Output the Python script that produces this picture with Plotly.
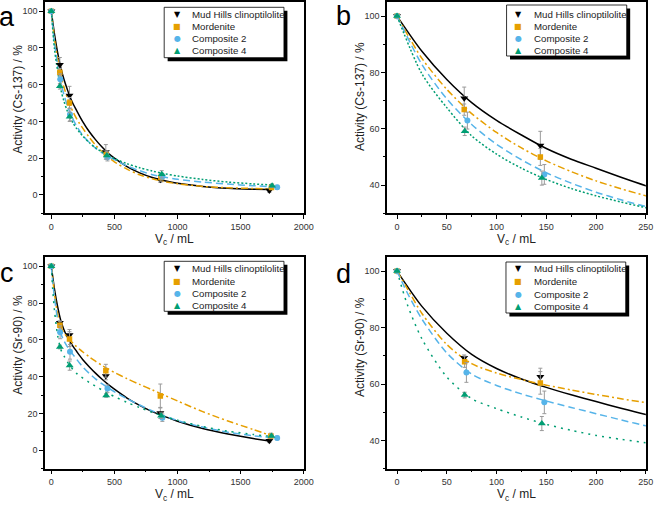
import plotly.graph_objects as go

# ---------------- data ----------------
series_names = ["Mud Hills clinoptilolite", "Mordenite", "Composite 2", "Composite 4"]

# Cs-137 measured points
vc_cs_mh = [0, 67.5, 144, 432, 864, 1728]
act_cs_mh = [100, 70.8, 54.1, 23.4, 8.3, 2.4]
err_cs_mh = [0.5, 4.0, 5.0, 4.0, 1.5, 1.0]
vc_cs_mor = [0, 67.5, 144, 436, 868, 1745]
act_cs_mor = [100, 66.8, 50.0, 22.0, 9.5, 4.0]
err_cs_mor = [0.5, 2.0, 3.0, 2.0, 2.0, 1.0]
vc_cs_c2 = [0, 70.7, 148, 445, 880, 1790]
act_cs_c2 = [100, 62.9, 43.8, 20.5, 10.0, 4.2]
err_cs_c2 = [0.5, 3.0, 3.5, 2.0, 1.5, 1.0]
vc_cs_c4 = [0, 68, 145.5, 440, 875, 1750]
act_cs_c4 = [100, 59.1, 42.5, 21.5, 11.2, 5.0]
err_cs_c4 = [0.5, 1.5, 2.5, 2.0, 2.0, 1.0]

# Cs-137 fitted curves
fitx_cs_mh = [0, 25, 50, 75, 100, 125, 150, 175, 200, 225, 250, 300, 350, 400, 450, 500, 600, 700, 800, 900, 1000, 1200, 1400, 1600, 1728]
fity_cs_mh = [100, 87.5, 77.5, 69.3, 63, 57.8, 53, 49.2, 46, 42.8, 39.8, 34.5, 30.1, 26.2, 22.8, 20.0, 15.4, 12.0, 9.5, 7.7, 6.3, 4.6, 3.6, 3.1, 2.9]
fitx_cs_mor = [0, 25, 50, 75, 100, 125, 150, 175, 200, 225, 250, 300, 350, 400, 450, 500, 600, 700, 800, 900, 1000, 1200, 1400, 1600, 1745]
fity_cs_mor = [100, 85, 74, 65.4, 58.7, 53.2, 48.6, 44.8, 41.5, 38.7, 36.2, 31.4, 27.2, 23.7, 20.6, 18.0, 14.0, 11.0, 8.8, 7.2, 6.1, 4.6, 3.9, 3.5, 3.3]
fitx_cs_c2 = [0, 25, 50, 75, 100, 125, 150, 175, 200, 225, 250, 300, 350, 400, 450, 500, 600, 700, 800, 900, 1000, 1200, 1400, 1600, 1790]
fity_cs_c2 = [100, 82.8, 70.6, 61.5, 54.5, 49, 44.4, 40.7, 37.5, 34.8, 32.4, 28.6, 25.5, 23.0, 20.9, 19.2, 15.8, 13.2, 11.0, 9.6, 8.5, 7.0, 5.9, 5.0, 4.4]
fitx_cs_c4 = [0, 25, 50, 75, 100, 125, 150, 175, 200, 225, 250, 300, 350, 400, 450, 500, 600, 700, 800, 900, 1000, 1200, 1400, 1600, 1750]
fity_cs_c4 = [100, 79.5, 67.5, 57.5, 51, 46, 42, 38.8, 36.2, 34, 32, 28.5, 25.7, 23.4, 21.4, 19.8, 17, 14.8, 13, 11.5, 10.3, 8.4, 7, 6, 5.4]

# Sr-90 measured points
vc_sr_mh = [0, 67.4, 144, 432, 864, 1728]
act_sr_mh = [100, 69.3, 62.6, 40.3, 20.3, 5.2]
err_sr_mh = [0.5, 1.0, 3.0, 2.0, 3.0, 1.0]
vc_sr_mor = [0, 67.9, 144, 432, 864, 1740]
act_sr_mor = [100, 67.9, 60.4, 43.2, 29.5, 7.8]
err_sr_mor = [0.5, 2.0, 4.0, 3.5, 6.5, 1.5]
vc_sr_c2 = [0, 69.7, 148, 445, 880, 1790]
act_sr_c2 = [100, 64.1, 53.5, 33.5, 17.7, 6.7]
err_sr_c2 = [0.5, 3.5, 4.0, 2.0, 2.0, 1.0]
vc_sr_c4 = [0, 68, 145.5, 435, 870, 1745]
act_sr_c4 = [100, 56.1, 46.0, 29.8, 18.8, 7.8]
err_sr_c4 = [0.5, 1.0, 2.5, 1.0, 1.5, 1.0]

# Sr-90 fitted curves
fitx_sr_mh = [0, 25, 50, 75, 100, 125, 150, 175, 200, 225, 250, 300, 350, 400, 450, 500, 600, 700, 800, 900, 1000, 1200, 1400, 1600, 1728]
fity_sr_mh = [100, 87.5, 78, 70.5, 65.5, 61.8, 58.8, 56.2, 53.8, 51.4, 49.2, 45.4, 41.9, 38.7, 35.8, 33.2, 28.4, 24.4, 21.0, 18.3, 15.8, 11.8, 8.8, 6.4, 5.0]
fitx_sr_mor = [0, 10, 25, 50, 75, 100, 125, 150, 175, 200, 225, 250, 300, 350, 400, 450, 500, 600, 700, 800, 900, 1000, 1200, 1400, 1600, 1740]
fity_sr_mor = [100, 94, 85, 74, 67.2, 63.9, 61.6, 59.6, 57.9, 56.3, 54.8, 53.4, 50.8, 48.4, 46.2, 44.2, 42.3, 38.9, 35.8, 32.8, 29.8, 26.8, 21.0, 15.9, 11.3, 8.0]
fitx_sr_c2 = [0, 10, 25, 50, 75, 100, 125, 150, 175, 200, 225, 250, 300, 350, 400, 450, 500, 600, 700, 800, 900, 1000, 1200, 1400, 1600, 1790]
fity_sr_c2 = [100, 92.5, 83, 71, 63.5, 59.5, 56.5, 54, 51.7, 49.5, 47.3, 45.2, 41.8, 38.8, 36.2, 33.9, 31.8, 28.0, 24.6, 21.4, 18.6, 16.2, 12.6, 9.8, 7.9, 6.6]
fitx_sr_c4 = [0, 10, 25, 50, 75, 100, 125, 150, 175, 200, 225, 250, 300, 350, 400, 450, 500, 600, 700, 800, 900, 1000, 1200, 1400, 1600, 1745]
fity_sr_c4 = [100, 88.5, 76, 62.5, 54.8, 51.3, 48.3, 45.7, 43.6, 41.8, 40.4, 39.2, 36.9, 34.8, 32.8, 30.9, 29.2, 26.0, 23.2, 20.6, 18.3, 16.3, 12.9, 10.4, 8.6, 7.5]

# ---------------- styles ----------------
W, H = 665, 505
FONT = "Arial, Liberation Sans, sans-serif"
colors = ["#000000", "#E69F00", "#56B4E9", "#009E73"]
symbols = ["triangle-down", "square", "circle", "triangle-up"]
msizes = [7, 5.5, 6, 7]
glyphs = ["\u25BC", "\u25A0", "\u25CF", "\u25B2"]
dash_ab = ["solid", "7px,3px,2px,3px", "7px,4px", "2px,2px"]
dash_cd = ["solid", "7px,3px,2px,3px", "7px,4px", "2px,5px"]


def pxx(x):
    return x / W


def pyy(y):
    return 1 - y / H


cs_points = [(vc_cs_mh, act_cs_mh, err_cs_mh), (vc_cs_mor, act_cs_mor, err_cs_mor),
             (vc_cs_c2, act_cs_c2, err_cs_c2), (vc_cs_c4, act_cs_c4, err_cs_c4)]
cs_fits = [(fitx_cs_mh, fity_cs_mh), (fitx_cs_mor, fity_cs_mor),
           (fitx_cs_c2, fity_cs_c2), (fitx_cs_c4, fity_cs_c4)]
sr_points = [(vc_sr_mh, act_sr_mh, err_sr_mh), (vc_sr_mor, act_sr_mor, err_sr_mor),
             (vc_sr_c2, act_sr_c2, err_sr_c2), (vc_sr_c4, act_sr_c4, err_sr_c4)]
sr_fits = [(fitx_sr_mh, fity_sr_mh), (fitx_sr_mor, fity_sr_mor),
           (fitx_sr_c2, fity_sr_c2), (fitx_sr_c4, fity_sr_c4)]

panels = [
    dict(s="", pts=cs_points, fits=cs_fits, dash=dash_ab, box=(45.7, 2, 308.3, 213.3),
         xr=[-50, 2000], xd=500, xm=250, yr=[-10, 105], yd=20, ym=10,
         ytitle="Activity (Cs-137) / %", ytpos=(18, 99), letter="a", lpos=(-2.5, 0.5),
         leg=(166.7, 7.3, 288.3, 57.7), rows=[14, 26, 38.3, 50.7], symx=180, txtx=193.3),
    dict(s="2", pts=cs_points, fits=cs_fits, dash=dash_ab, box=(393, 2, 655.7, 213.3),
         xr=[-10, 250], xd=50, xm=25, yr=[30, 105], yd=20, ym=10,
         ytitle="Activity (Cs-137) / %", ytpos=(365.5, 97), letter="b", lpos=(340.5, 0),
         leg=(514.3, 5, 636.3, 56), rows=[14, 26, 38.3, 50.7], symx=526.3, txtx=540.3),
    dict(s="3", pts=sr_points, fits=sr_fits, dash=dash_cd, box=(45.7, 257, 308.3, 468.7),
         xr=[-50, 2000], xd=500, xm=250, yr=[-10, 105], yd=20, ym=10,
         ytitle="Activity (Sr-90) / %", ytpos=(18, 345), letter="c", lpos=(-1.5, 257),
         leg=(166.7, 261.3, 288.3, 311.3), rows=[268.7, 281, 293, 305.3], symx=180, txtx=193.3),
    dict(s="4", pts=sr_points, fits=sr_fits, dash=dash_cd, box=(393, 257, 655.7, 468.7),
         xr=[-10, 250], xd=50, xm=25, yr=[30, 105], yd=20, ym=10,
         ytitle="Activity (Sr-90) / %", ytpos=(365.5, 347), letter="d", lpos=(340.5, 258),
         leg=(513.7, 262, 635.3, 313), rows=[268.7, 281.3, 294, 306.3], symx=526.3, txtx=540.3),
]

fig = go.Figure()
shapes = []
annotations = []
layout = {}

for p in panels:
    xa = "x" + p["s"]
    ya = "y" + p["s"]
    for i, (fx, fy) in enumerate(p["fits"]):
        fig.add_trace(go.Scatter(
            x=fx, y=fy, mode="lines", xaxis=xa, yaxis=ya, showlegend=False,
            line=dict(color=colors[i], width=1.5, dash=p["dash"][i], shape="spline", smoothing=0.8),
            hoverinfo="skip"))
    for i, (vx, vy, ve) in enumerate(p["pts"]):
        fig.add_trace(go.Scatter(
            x=vx, y=vy, mode="markers", xaxis=xa, yaxis=ya, showlegend=False,
            name=series_names[i],
            error_y=dict(type="data", array=ve, visible=True, color="#9a9a9a", thickness=1, width=2),
            marker=dict(symbol=symbols[i], size=msizes[i], color=colors[i], line=dict(width=0))))

    l, t, r, b = p["box"]
    axis_common = dict(showline=True, linecolor="black", linewidth=1.5, mirror=True,
                       ticks="outside", ticklen=4, tickwidth=1, tickcolor="black",
                       showgrid=False, zeroline=False,
                       tickfont=dict(family=FONT, size=9, color="#333333"))
    layout["xaxis" + p["s"]] = dict(
        axis_common, domain=[pxx(l), pxx(r)], anchor=ya, range=p["xr"], dtick=p["xd"], tick0=0,
        minor=dict(ticks="outside", ticklen=2, tickcolor="black", dtick=p["xm"], tick0=0),
        title=dict(text="V<sub>c</sub> / mL", font=dict(family=FONT, size=12, color="#222222"), standoff=0))
    layout["yaxis" + p["s"]] = dict(
        axis_common, domain=[pyy(b), pyy(t)], anchor=xa, range=p["yr"], dtick=p["yd"], tick0=0,
        minor=dict(ticks="outside", ticklen=2, tickcolor="black", dtick=p["ym"], tick0=0))

    # y-axis title (placed as Origin does, slightly above the axis centre)
    annotations.append(dict(text=p["ytitle"], x=pxx(p["ytpos"][0]), y=pyy(p["ytpos"][1]),
                            xref="paper", yref="paper", xanchor="center", yanchor="middle",
                            textangle=-90, showarrow=False,
                            font=dict(family=FONT, size=12, color="#222222")))

    annotations.append(dict(text=p["letter"], x=pxx(p["lpos"][0]), y=pyy(p["lpos"][1]),
                            xref="paper", yref="paper", xanchor="left", yanchor="top",
                            showarrow=False, borderpad=0,
                            font=dict(family=FONT, size=27, color="black")))

    lx0, ly0, lx1, ly1 = p["leg"]
    shapes.append(dict(type="rect", xref="paper", yref="paper",
                       x0=pxx(lx0 + 3.5), x1=pxx(lx1 + 3.5), y0=pyy(ly1 + 3.5), y1=pyy(ly0 + 3.5),
                       fillcolor="black", line=dict(width=0), layer="above"))
    shapes.append(dict(type="rect", xref="paper", yref="paper",
                       x0=pxx(lx0), x1=pxx(lx1), y0=pyy(ly1), y1=pyy(ly0),
                       fillcolor="white", line=dict(color="black", width=0.8), layer="above"))
    for i, ry in enumerate(p["rows"]):
        annotations.append(dict(text=glyphs[i], x=pxx(p["symx"]), y=pyy(ry), xref="paper", yref="paper",
                                xanchor="center", yanchor="middle", showarrow=False,
                                font=dict(family="DejaVu Sans", size=8, color=colors[i])))
        annotations.append(dict(text=series_names[i], x=pxx(p["txtx"]), y=pyy(ry), xref="paper", yref="paper",
                                xanchor="left", yanchor="middle", showarrow=False,
                                font=dict(family=FONT, size=9.7, color="#222222")))

fig.update_layout(**layout)
fig.update_layout(width=W, height=H, margin=dict(l=0, r=0, t=0, b=0, pad=0),
                  paper_bgcolor="white", plot_bgcolor="white", showlegend=False,
                  shapes=shapes, annotations=annotations, font=dict(family=FONT))

fig.write_html("out.html", config={"displayModeBar": False},
               post_script="document.body.style.margin='0';document.body.style.padding='0';")
